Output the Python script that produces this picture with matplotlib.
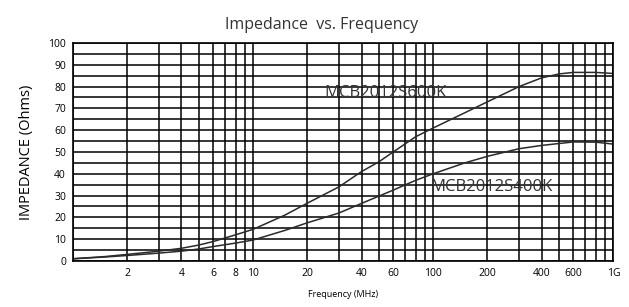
import numpy as np
import matplotlib.pyplot as plt
from matplotlib.ticker import FixedLocator, NullFormatter

plt.rcParams['font.family'] = ['Open Sans', 'DejaVu Sans']

# values (MHz, Ohms)
freq_600 = [1, 1.5, 2, 3, 4, 5, 6, 8, 10, 15, 20, 30, 40, 50, 60, 80, 100, 150, 200, 300, 400, 500, 600, 800, 1000]
z_600 = [1, 2, 3, 4.5, 5.8, 7.3, 8.9, 12, 14.5, 21, 26.5, 34, 41, 45.5, 50, 57, 61, 68, 73, 80, 84, 85.8, 86.5, 86.5, 86]
freq_400 = [1, 1.5, 2, 3, 4, 5, 6, 8, 10, 15, 20, 30, 40, 60, 80, 100, 150, 200, 300, 400, 600, 800, 1000]
z_400 = [1, 1.8, 2.5, 3.6, 4.5, 5.5, 6.6, 8.2, 9.6, 14, 17.5, 22, 26.4, 32.5, 37, 40, 45, 48, 51.5, 53, 54.6, 54.5, 53.6]

x_ticks = [2, 4, 6, 8, 10, 20, 40, 60, 100, 200, 400, 600, 1000]
x_labels = ['2', '4', '6', '8', '10', '20', '40', '60', '100', '200', '400', '600', '1G']
y_ticks = list(range(0, 101, 10))

fig = plt.figure(figsize=(6.29, 3.07), dpi=100)
ax = fig.add_axes([0.116, 0.150, 0.859, 0.710])

ax.set_xscale('log')
ax.set_xlim(1, 1000)
ax.set_ylim(0, 100)

ax.plot(freq_600, z_600, color='#2a2a2a', lw=1.1)
ax.plot(freq_400, z_400, color='#2a2a2a', lw=1.1)

# grid: every integer multiple per decade, every 5 ohms
minor_x = [m * 10 ** d for d in range(3) for m in range(1, 10)] + [1000]
ax.xaxis.set_major_locator(FixedLocator(x_ticks))
ax.xaxis.set_minor_locator(FixedLocator(minor_x))
ax.xaxis.set_minor_formatter(NullFormatter())
ax.set_xticklabels(x_labels)
ax.yaxis.set_major_locator(FixedLocator(y_ticks))
ax.yaxis.set_minor_locator(FixedLocator(list(range(0, 101, 5))))
ax.grid(True, which='both', color='black', lw=1.1)
ax.tick_params(which='both', length=0, labelsize=7.5, pad=5)

for s in ax.spines.values():
    s.set_linewidth(1.2)

ax.text(25, 77, 'MCB2012S600K', fontsize=12, color='#333333', va='center')
ax.text(96, 34, 'MCB2012S400K', fontsize=12, color='#333333', va='center')

ax.set_title('Impedance  vs. Frequency', fontsize=11.5, color='#333333', pad=10, x=0.46)
ax.set_ylabel('IMPEDANCE (Ohms)', fontsize=10.5, labelpad=10)
ax.set_xlabel('Frequency (MHz)', fontsize=6.5, labelpad=8)

fig.savefig('out.png', dpi=100)
